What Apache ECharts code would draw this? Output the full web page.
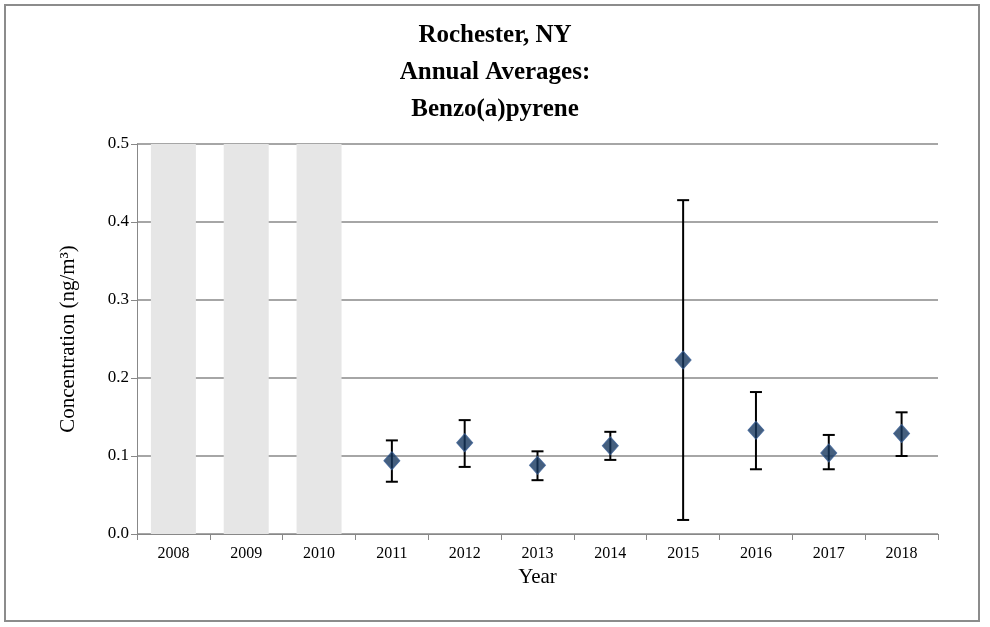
<!DOCTYPE html>
<html><head><meta charset="utf-8">
<script src="https://cdn.jsdelivr.net/npm/echarts@6/dist/echarts.min.js"></script>
<style>
body{margin:0;background:#fff;}
#frame{position:absolute;left:4px;top:4px;width:972px;height:614px;border:2px solid #8c8c8c;}
#main{position:absolute;left:0;top:0;width:990px;height:627px;}
</style></head>
<body><div id="frame"></div><div id="main"></div>
<script>
var years = ['2008','2009','2010','2011','2012','2013','2014','2015','2016','2017','2018'];
var noData = [0.5,0.5,0.5,null,null,null,null,null,null,null,null];
var means = [null,null,null,0.094,0.117,0.088,0.113,0.223,0.133,0.104,0.129];
var lower = [null,null,null,0.067,0.086,0.069,0.095,0.018,0.083,0.083,0.100];
var upper = [null,null,null,0.120,0.146,0.106,0.131,0.428,0.182,0.127,0.156];

var font = 'Liberation Serif';
var errData = [];
for(var i=0;i<years.length;i++){
	if(means[i]!=null) errData.push([i,lower[i],upper[i]]);
}
var chart = echarts.init(document.getElementById('main'));
chart.setOption({
	animation:false,
	textStyle:{fontFamily:font},
	title:{
		text:'Rochester, NY\nAnnual Averages:\nBenzo(a)pyrene',
		left:490,top:12,textAlign:'center',
		textStyle:{fontFamily:font,fontSize:25,fontWeight:'bold',color:'#000',lineHeight:37}
	},
	grid:{left:137,right:52,top:144,bottom:93},
	xAxis:{
		type:'category',data:years,
		name:'Year',nameLocation:'middle',nameGap:30,
		nameTextStyle:{fontFamily:font,fontSize:21,color:'#000'},
		axisLine:{lineStyle:{color:'#888'}},
		axisTick:{show:true,length:6,lineStyle:{color:'#888'}},
		axisLabel:{color:'#000',fontSize:16,fontFamily:font,margin:12}
	},
	yAxis:{
		type:'value',min:0,max:0.5,interval:0.1,
		name:'Concentration (ng/m³)',nameLocation:'middle',nameGap:58,
		nameTextStyle:{fontFamily:font,fontSize:21,color:'#000'},
		axisLine:{show:true,lineStyle:{color:'#888'}},
		axisTick:{show:true,length:6,lineStyle:{color:'#888'}},
		axisLabel:{color:'#000',fontSize:17,fontFamily:font,formatter:function(v){return v.toFixed(1);}},
		splitLine:{lineStyle:{color:'#888',width:1.5}}
	},
	series:[
		{type:'bar',data:noData,barWidth:45,itemStyle:{color:'#e6e6e6'},z:1},
		{type:'custom',z:3,data:errData,
			renderItem:function(params,api){
				var x=api.coord([api.value(0),api.value(1)]);
				var y=api.coord([api.value(0),api.value(2)]);
				var w=6;
				var st={stroke:'#000',lineWidth:2};
				return {type:'group',children:[
					{type:'line',shape:{x1:x[0],y1:x[1],x2:y[0],y2:y[1]},style:st},
					{type:'line',shape:{x1:x[0]-w,y1:x[1],x2:x[0]+w,y2:x[1]},style:st},
					{type:'line',shape:{x1:y[0]-w,y1:y[1],x2:y[0]+w,y2:y[1]},style:st}
				]};
			}},
		{type:'scatter',data:means,symbol:'diamond',symbolSize:[16,18],z:4,
			itemStyle:{color:'#17375e',borderColor:'#3a5f95',borderWidth:1}}
	]
});
</script></body></html>
